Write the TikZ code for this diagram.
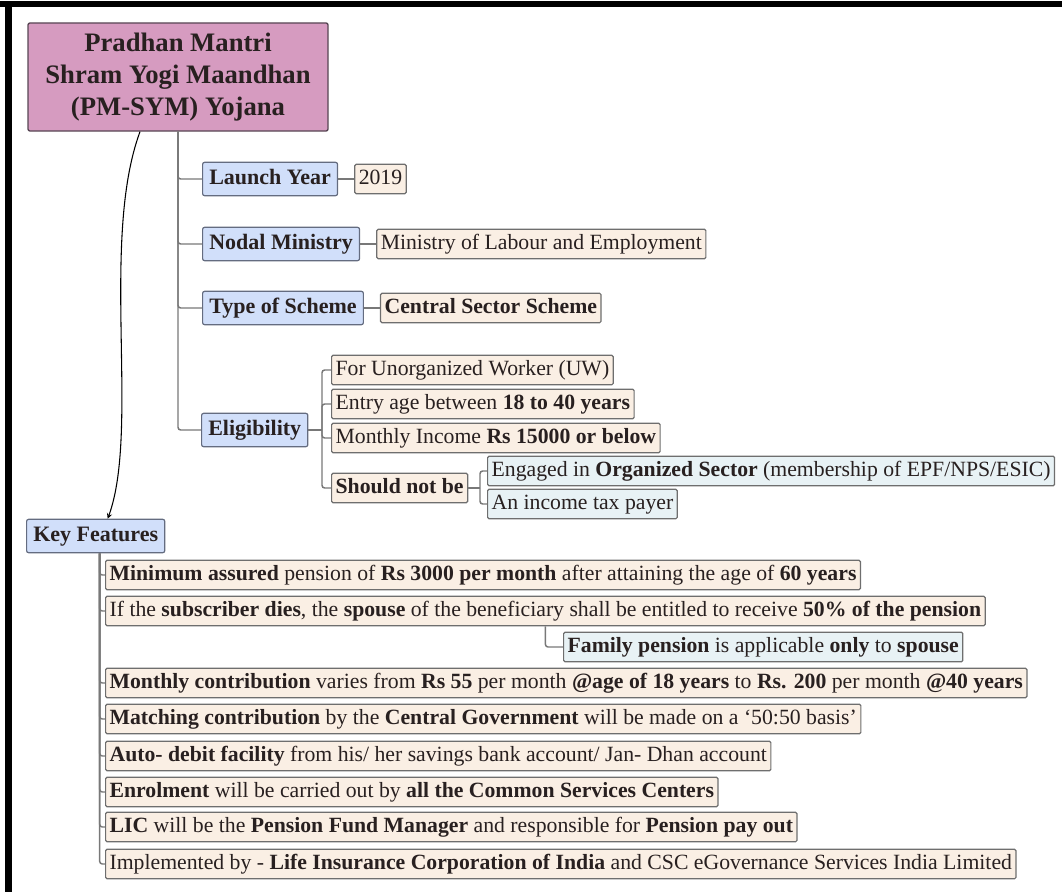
\documentclass[tikz,border=0pt]{standalone}
\usepackage{fontspec}
\setmainfont{Liberation Serif}
\usepackage{tikz}
\usetikzlibrary{arrows, positioning, calc}
\definecolor{rootcolor}{RGB}{214,155,192}
\definecolor{rootborder}{RGB}{88,70,84}
\definecolor{headcolor}{RGB}{209,223,250}
\definecolor{headborder}{RGB}{100,108,128}
\definecolor{leafcolor}{RGB}{250,239,228}
\definecolor{leafborder}{RGB}{110,110,110}
\definecolor{subcolor}{RGB}{232,242,245}
\definecolor{linecolor}{RGB}{120,120,120}
\definecolor{inkcolor}{RGB}{40,32,32}
\tikzstyle{root} = [rectangle, rounded corners=1.5pt, draw=rootborder, fill=rootcolor, line width=1pt, minimum width=225pt, minimum height=81pt, align=center, font=\fontsize{20}{24}\selectfont\bfseries, text=inkcolor]
\tikzstyle{head} = [rectangle, rounded corners=1.5pt, draw=headborder, fill=headcolor, line width=0.9pt, inner xsep=5pt, inner ysep=5pt, text height=11.5pt, text depth=3.5pt, font=\fontsize{16.5}{19}\selectfont\bfseries, text=inkcolor, anchor=west]
\tikzstyle{leaf} = [rectangle, rounded corners=1pt, draw=leafborder, fill=leafcolor, line width=0.9pt, inner xsep=3pt, inner ysep=3.5pt, text height=11.5pt, text depth=3.5pt, font=\fontsize{16.3}{19}\selectfont, text=inkcolor, anchor=west]
\tikzstyle{sub} = [leaf, fill=subcolor]
\tikzstyle{link} = [draw=linecolor, line width=1.1pt, rounded corners=2pt]
\tikzstyle{arrow} = [line width=0.8pt, ->, >=stealth]

\begin{document}
\begin{tikzpicture}[x=0.75pt, y=-0.75pt, node distance=12pt]
\useasboundingbox (0,0) rectangle (1062,892);

% Frame
\fill[black] (0,1) rectangle (1062,7);
\fill[black] (5,1) rectangle (12,892);

% Root
\node (pmsym) [root] at (178,77) {Pradhan Mantri\\Shram Yogi Maandhan\\(PM-SYM) Yojana};

% Level 1
\node (launch) [head] at (202,179) {Launch Year};
\node (yr) [leaf, right=of launch] {2019};
\node (nodal) [head] at (202,244) {Nodal Ministry};
\node (ministry) [leaf, right=of nodal] {Ministry of Labour and Employment};
\node (type) [head] at (202,308) {Type of Scheme};
\node (central) [leaf, right=of type] {\textbf{Central Sector Scheme}};
\node (elig) [head] at (201,430) {Eligibility};

% Eligibility
\node (uw) [leaf] at (331,370) {For Unorganized Worker (UW)};
\node (entry) [leaf] at (331,404) {Entry age between \textbf{18 to 40 years}};
\node (income) [leaf] at (331,438) {Monthly Income \textbf{Rs 15000 or below}};
\node (notbe) [leaf] at (331,488) {\textbf{Should not be}};
\node (organized) [sub] at (487,471) {Engaged in \textbf{Organized Sector} (membership of EPF/NPS/ESIC)};
\node (taxpayer) [sub] at (487,504) {An income tax payer};

% Key features
\node (keyf) [head] at (26,536) {Key Features};
\node (f1) [leaf] at (105,575) {\textbf{Minimum assured} pension of \textbf{Rs 3000 per month} after attaining the age of \textbf{60 years}};
\node (f2) [leaf] at (105,611) {If the \textbf{subscriber dies}, the \textbf{spouse} of the beneficiary shall be entitled to receive \textbf{50\% of the pension}};
\node (family) [sub] at (563,647) {\textbf{Family pension} is applicable \textbf{only} to \textbf{spouse}};
\node (f3) [leaf] at (105,683) {\textbf{Monthly contribution} varies from \textbf{Rs 55} per month \textbf{@age of 18 years} to \textbf{Rs. 200} per month \textbf{@40 years}};
\node (f4) [leaf] at (105,719) {\textbf{Matching contribution} by the \textbf{Central Government} will be made on a ‘50:50 basis’};
\node (f5) [leaf] at (105,756) {\textbf{Auto- debit facility} from his/ her savings bank account/ Jan- Dhan account};
\node (f6) [leaf] at (105,792) {\textbf{Enrolment} will be carried out by \textbf{all the Common Services Centers}};
\node (f7) [leaf] at (105,827) {\textbf{LIC} will be the \textbf{Pension Fund Manager} and responsible for \textbf{Pension pay out}};
\node (f8) [leaf] at (105,864) {Implemented by - \textbf{Life Insurance Corporation of India} and CSC eGovernance Services India Limited};

% Forks
\coordinate (eligfork) at (322,430);
\coordinate (notfork) at (480,488);
\coordinate (keyfork) at ($(keyf.south)+(4,0)$);

% Connectors
\foreach \c in {launch, nodal, type, elig}
  \draw [link] (pmsym.south) |- (\c.west);
\draw [link] (launch.east) -- (yr.west);
\draw [link] (nodal.east) -- (ministry.west);
\draw [link] (type.east) -- (central.west);
\draw [link] (elig.east) -- (eligfork);
\foreach \c in {uw, entry, income, notbe}
  \draw [link] (eligfork) |- (\c.west);
\draw [link] (notbe.east) -- (notfork);
\foreach \c in {organized, taxpayer}
  \draw [link] (notfork) |- (\c.west);
\foreach \c in {f1, f2, f3, f4, f5, f6, f7, f8}
  \draw [link] (keyfork) |- (\c.west);
\draw [link] (f2.south) |- (family.west);
\draw [arrow] ($(pmsym.south)+(-38,0)$) .. controls (100,240) and (140,430) .. ($(keyf.north)+(12,0)$);

\end{tikzpicture}
\end{document}
